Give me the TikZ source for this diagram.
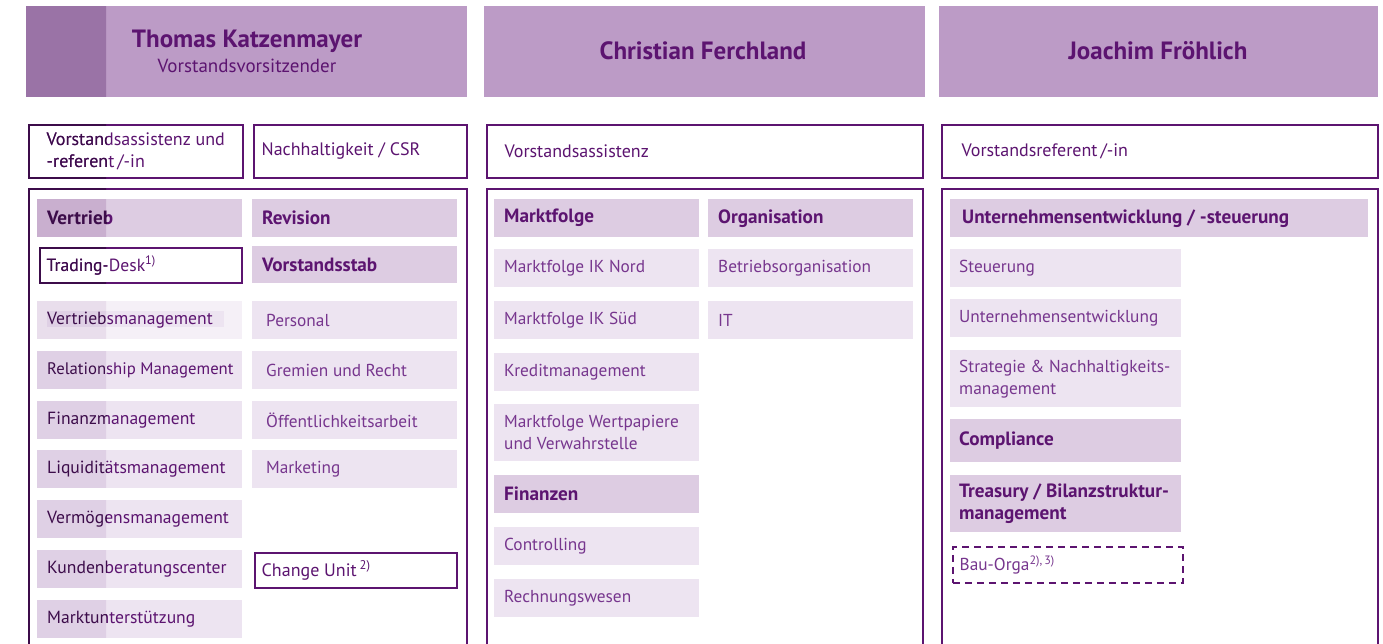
\documentclass[tikz,border=0pt]{standalone}
\usepackage{fontspec}
\setmainfont{PT Sans}
\definecolor{hdr}{HTML}{BC9BC6}
\definecolor{dept}{HTML}{DDCCE2}
\definecolor{subf}{HTML}{EDE4F1}
\definecolor{lightf}{HTML}{F5F0F7}
\definecolor{ink}{HTML}{5C1470}
\definecolor{subink}{HTML}{77368E}
\tikzset{
  hdrbox/.style={fill=hdr, inner sep=0pt},
  deptbox/.style={fill=dept, inner sep=0pt},
  subbox/.style={fill=subf, inner sep=0pt},
  lightbox/.style={fill=lightf, inner sep=0pt},
  framebox/.style={draw=ink, line width=2.8pt, inner sep=0pt},
  dashbox/.style={draw=ink, line width=2.8pt, dash pattern=on 7pt off 5pt, inner sep=0pt},
  nametxt/.style={font=\bfseries\fontsize{25}{28}\selectfont, text=ink, inner sep=0pt},
  roletxt/.style={font=\fontsize{19}{22}\selectfont, text=ink, inner sep=0pt},
  headtxt/.style={font=\bfseries\fontsize{19.2}{22}\selectfont, text=ink, inner sep=0pt, align=left},
  subtxt/.style={font=\fontsize{17.3}{22}\selectfont, text=subink, inner sep=0pt, align=left},
  lefttxt/.style={font=\fontsize{17.6}{22}\selectfont, text=ink, inner sep=0pt, align=left},
  narrowtxt/.style={font=\fontsize{16.7}{22}\selectfont, text=ink, inner sep=0pt, align=left},
  rowtxt/.style={font=\fontsize{18}{22}\selectfont, text=ink, inner sep=0pt, align=left},
}
\newcommand\ubox[9]{%
  \node[#1, anchor=north west, minimum width={#5-#3}, minimum height={#6-#4}] (#2) at (#3,#4) {};
  \node[#7, anchor=west] (#2t) at ([xshift=#8pt]#2.west) {#9};}
\newcommand\alldraw{%
  % headers
  \node[hdrbox, anchor=north west, minimum width=441, minimum height=91] (h1) at (26,6) {};
  \node[hdrbox, anchor=north west, minimum width=441, minimum height=91] (h2) at (484,6) {};
  \node[hdrbox, anchor=north west, minimum width=439, minimum height=91] (h3) at (939,6) {};
  \node[nametxt] (h1n) at (247,41) {Thomas Katzenmayer};
  \node[roletxt] (h1r) at (247,66) {Vorstandsvorsitzender};
  \node[nametxt] (h2n) at (703,51) {Christian Ferchland};
  \node[nametxt] (h3n) at (1158,51) {Joachim Fröhlich};
  % row 2 boxes
  \ubox{framebox}{r1}{27.5}{123.5}{241.5}{176.5}{rowtxt}{19}{Vorstandsassistenz und\\-referent\,/-in}
  \ubox{framebox}{r2}{252.5}{123.5}{465.5}{176.5}{rowtxt}{9}{Nachhaltigkeit / CSR}
  \ubox{framebox}{r3}{485.5}{123.5}{921.5}{176.5}{rowtxt}{19}{Vorstandsassistenz}
  \ubox{framebox}{r4}{940.5}{123.5}{1376.5}{176.5}{rowtxt}{21}{Vorstandsreferent\,/-in}
  % big frames
  \node[framebox, anchor=north west, minimum width=438, minimum height=480] (f1) at (27.5,187.5) {};
  \node[framebox, anchor=north west, minimum width=436, minimum height=480] (f2) at (485.5,187.5) {};
  \node[framebox, anchor=north west, minimum width=436, minimum height=480] (f3) at (940.5,187.5) {};
  % column 1 left
  \ubox{deptbox}{a1}{37}{199}{242}{237}{headtxt}{10}{Vertrieb}
  \ubox{framebox}{a2}{38.5}{246.5}{240.5}{281.5}{lefttxt}{8}{Trading-Desk\textsuperscript{1)}}
  \node[lightbox, anchor=north west, minimum width=205, minimum height=38] (a3) at (37,301) {};
  \fill[subf] (47,311) rectangle (224,327);
  \node[lefttxt, anchor=west] (a3t) at ([xshift=10pt]a3.west) {Vertriebsmanagement};
  \ubox{subbox}{a4}{37}{351}{242}{389}{narrowtxt}{10}{Relationship Management}
  \ubox{subbox}{a5}{37}{401}{242}{439}{lefttxt}{10}{Finanzmanagement}
  \ubox{subbox}{a6}{37}{450}{242}{488}{lefttxt}{10}{Liquiditätsmanagement}
  \ubox{subbox}{a7}{37}{500}{242}{538}{lefttxt}{10}{Vermögensmanagement}
  \ubox{subbox}{a8}{37}{550}{242}{588}{lefttxt}{10}{Kundenberatungscenter}
  \ubox{subbox}{a9}{37}{600}{242}{638}{lefttxt}{10}{Marktunterstützung}
  % column 1 right
  \ubox{deptbox}{b1}{252}{199}{457}{237}{headtxt}{10}{Revision}
  \ubox{deptbox}{b2}{252}{246}{457}{283}{headtxt}{10}{Vorstandsstab}
  \ubox{subbox}{b3}{252}{301}{457}{339}{subtxt}{14}{Personal}
  \ubox{subbox}{b4}{252}{351}{457}{389}{subtxt}{14}{Gremien und Recht}
  \ubox{subbox}{b5}{252}{401}{457}{439}{subtxt}{14}{Öffentlichkeitsarbeit}
  \ubox{subbox}{b6}{252}{450}{457}{488}{subtxt}{14}{Marketing}
  \ubox{framebox}{b7}{253.5}{551.5}{455.5}{586.5}{rowtxt}{8}{Change Unit\,\textsuperscript{2)}}
  % column 2 left
  \ubox{deptbox}{c1}{494}{199}{699}{237}{headtxt}{10}{Marktfolge}
  \ubox{subbox}{c2}{494}{249}{699}{287}{subtxt}{10}{Marktfolge IK Nord}
  \ubox{subbox}{c3}{494}{301}{699}{339}{subtxt}{10}{Marktfolge IK Süd}
  \ubox{subbox}{c4}{494}{353}{699}{391}{subtxt}{10}{Kreditmanagement}
  \ubox{subbox}{c5}{494}{404}{699}{461}{subtxt}{10}{Marktfolge Wertpapiere\\und Verwahrstelle}
  \ubox{deptbox}{c6}{494}{475}{699}{513}{headtxt}{10}{Finanzen}
  \ubox{subbox}{c7}{494}{527}{699}{565}{subtxt}{10}{Controlling}
  \ubox{subbox}{c8}{494}{579}{699}{617}{subtxt}{10}{Rechnungswesen}
  % column 2 right
  \ubox{deptbox}{d1}{708}{199}{913}{237}{headtxt}{10}{Organisation}
  \ubox{subbox}{d2}{708}{249}{913}{287}{subtxt}{10}{Betriebsorganisation}
  \ubox{subbox}{d3}{708}{301}{913}{339}{subtxt}{10}{IT}
  % column 3
  \ubox{deptbox}{e1}{950}{199}{1368}{237}{headtxt}{12}{Unternehmensentwicklung / -steuerung}
  \ubox{subbox}{e2}{950}{249}{1181}{287}{subtxt}{9}{Steuerung}
  \ubox{subbox}{e3}{950}{299}{1181}{337}{subtxt}{9}{Unternehmensentwicklung}
  \ubox{subbox}{e4}{950}{350}{1181}{407}{subtxt}{9}{Strategie \& Nachhaltigkeits-\\management}
  \ubox{deptbox}{e5}{950}{419}{1181}{462}{headtxt}{9}{Compliance}
  \ubox{deptbox}{e6}{950}{475}{1181}{532}{headtxt}{9}{Treasury / Bilanzstruktur-\\management}
  \ubox{dashbox}{e7}{951.5}{545.5}{1181.5}{581.5}{subtxt}{8}{Bau-Orga\textsuperscript{2),\,3)}}
}
\begin{document}
\begin{tikzpicture}[x=1pt, y=-1pt]
  \useasboundingbox (0,0) rectangle (1383,643);
  \clip (0,0) rectangle (1383,643);
  \fill[white] (0,0) rectangle (1383,643);
  \alldraw
  \begin{scope}
    \clip (26,6) rectangle (106,643);
    \definecolor{hdr}{HTML}{9A73A6}
    \definecolor{dept}{HTML}{C9AFCF}
    \definecolor{subf}{HTML}{DFD0E5}
    \definecolor{lightf}{HTML}{E9DEEC}
    \definecolor{ink}{HTML}{3C0C4A}
    \definecolor{subink}{HTML}{52205F}
    \alldraw
  \end{scope}
\end{tikzpicture}
\end{document}
